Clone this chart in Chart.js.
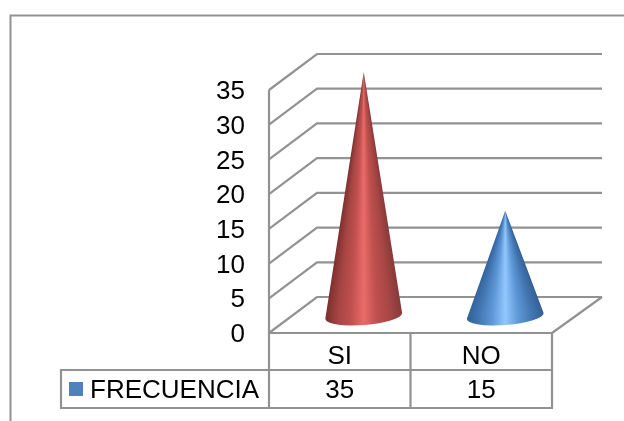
<!DOCTYPE html>
<html>
<head>
<meta charset="utf-8">
<title>Frecuencia</title>
<script src="https://cdn.jsdelivr.net/npm/chart.js@4/dist/chart.umd.min.js"></script>
<style>
  html, body { margin: 0; padding: 0; background: #fff; overflow: hidden; }
  canvas { display: block; }
</style>
</head>
<body>
<canvas id="chart" width="624" height="421"></canvas>
<script>
const categories = ['SI', 'NO'];
const frecuencia = [35, 15];
const seriesName = 'FRECUENCIA';
const yTicks = [0, 5, 10, 15, 20, 25, 30, 35];
const legendColor = '#4f81bd';
const redShades = ['#7a2e2d', '#a64543', '#c0504e', '#ea6b6a', '#bf504e', '#a84745', '#86393a'];
const blueShades = ['#2f5f96', '#4378b4', '#5f98d8', '#92c8ff', '#5f98d8', '#4378b4', '#345f94'];

const LINE = '#929292';
const FONT_FAMILY = '"Liberation Sans", Arial, sans-serif';
const FONT_SIZE = 26;
const DEPTH_X = 48, DEPTH_Y = 36; // 3d offset of the back wall
const ROW1_BOTTOM = 370, ROW2_BOTTOM = 408, TABLE_LEFT = 61;

function line(ctx, points, width) {
    ctx.beginPath();
    points.forEach((p, i) => i ? ctx.lineTo(p[0], p[1]) : ctx.moveTo(p[0], p[1]));
    ctx.lineWidth = width || 2.2;
    ctx.strokeStyle = LINE;
    ctx.stroke();
}

// cone standing on the middle of the floor, apex at the bar's value
function drawCone(ctx, bar, shades) {
    const cx = bar.x + DEPTH_X / 2;
    const apexY = bar.y - DEPTH_Y / 2;
    const baseY = bar.base - DEPTH_Y / 2 + 1;
    const rx = bar.width / 2, ry = 9;
    const tilt = -0.078;
    const endY = baseY + rx * Math.sin(tilt);

    ctx.save();
    ctx.beginPath();
    ctx.moveTo(cx, apexY);
    ctx.lineTo(cx - rx, baseY - rx * Math.sin(tilt));
    ctx.ellipse(cx, baseY, rx, ry, tilt, Math.PI, 0, true);
    ctx.closePath();
    ctx.clip();

    // one gradient per pixel row so the shading narrows towards the apex
    for (let py = Math.floor(apexY); py < baseY + ry + 3; py++) {
        const half = Math.max(rx * Math.min(1, (py + 0.5 - apexY) / (endY - apexY)), 0.5);
        const grad = ctx.createLinearGradient(cx - half, 0, cx + half, 0);
        shades.forEach((c, i) => grad.addColorStop(i / (shades.length - 1), c));
        ctx.fillStyle = grad;
        ctx.fillRect(cx - rx - 2, py, 2 * rx + 4, 1);
    }
    ctx.restore();
}

const cone3d = {
    id: 'cone3d',
    beforeDraw(chart) {
        // outer frame
        line(chart.ctx, [[10.5, 421], [10.5, 15.5], [624, 15.5]], 2);
    },
    beforeDatasetsDraw(chart) {
        const ctx = chart.ctx, y = chart.scales.y, area = chart.chartArea;
        ctx.save();
        yTicks.forEach(v => {
            const py = y.getPixelForValue(v);
            line(ctx, [[area.left, py], [area.left + DEPTH_X, py - DEPTH_Y], [area.right + DEPTH_X + 2, py - DEPTH_Y]]);
        });
        // floor right edge and front wall edge
        line(ctx, [[area.right + DEPTH_X + 2, area.bottom - DEPTH_Y], [area.right, area.bottom]]);
        line(ctx, [[area.left, area.top], [area.left, area.bottom]]);
        ctx.restore();
    },
    afterDatasetsDraw(chart) {
        const ctx = chart.ctx;
        chart.getDatasetMeta(0).data.forEach((bar, i) => {
            const props = bar.getProps(['x', 'y', 'base', 'width']);
            drawCone(ctx, props, i === 0 ? redShades : blueShades);
        });
    },
    afterDraw(chart) {
        const ctx = chart.ctx, x = chart.scales.x, area = chart.chartArea;
        const xMid = (x.getPixelForValue(0) + x.getPixelForValue(1)) / 2;
        ctx.save();
        // data table grid
        line(ctx, [[area.left, area.bottom], [area.right, area.bottom], [area.right, ROW2_BOTTOM], [TABLE_LEFT, ROW2_BOTTOM], [TABLE_LEFT, ROW1_BOTTOM], [area.right, ROW1_BOTTOM]]);
        line(ctx, [[area.left, area.bottom], [area.left, ROW2_BOTTOM]]);
        line(ctx, [[xMid, area.bottom], [xMid, ROW2_BOTTOM]]);
        // legend key and series row
        ctx.fillStyle = legendColor;
        ctx.fillRect(69, 382, 14, 14);
        ctx.fillStyle = '#000';
        ctx.font = FONT_SIZE + 'px ' + FONT_FAMILY;
        ctx.textBaseline = 'middle';
        ctx.textAlign = 'left';
        ctx.fillText(seriesName, 90, 391);
        ctx.textAlign = 'center';
        frecuencia.forEach((v, i) => ctx.fillText(String(v), x.getPixelForValue(i), 391));
        ctx.restore();
    }
};

new Chart(document.getElementById('chart').getContext('2d'), {
    type: 'bar',
    data: {
        labels: categories,
        datasets: [{
            label: seriesName,
            data: frecuencia,
            backgroundColor: 'rgba(0,0,0,0)',
            categoryPercentage: 1,
            barPercentage: 0.544
        }]
    },
    options: {
        responsive: false,
        animation: false,
        layout: { padding: { left: 0, right: 72, top: 90, bottom: 0 } },
        plugins: { legend: { display: false }, tooltip: { enabled: false } },
        scales: {
            x: {
                grid: { display: false, drawTicks: false },
                border: { display: false },
                ticks: { color: '#000', font: { size: FONT_SIZE, family: FONT_FAMILY }, padding: 8, maxRotation: 0 },
                afterFit: s => { s.height = 88; }
            },
            y: {
                min: 0,
                max: 35,
                grid: { display: false, drawTicks: false },
                border: { display: false },
                ticks: { stepSize: 5, color: '#000', font: { size: FONT_SIZE, family: FONT_FAMILY }, padding: 24, labelOffset: 2 },
                afterFit: s => { s.width = 269; }
            }
        }
    },
    plugins: [cone3d]
});
</script>
</body>
</html>
